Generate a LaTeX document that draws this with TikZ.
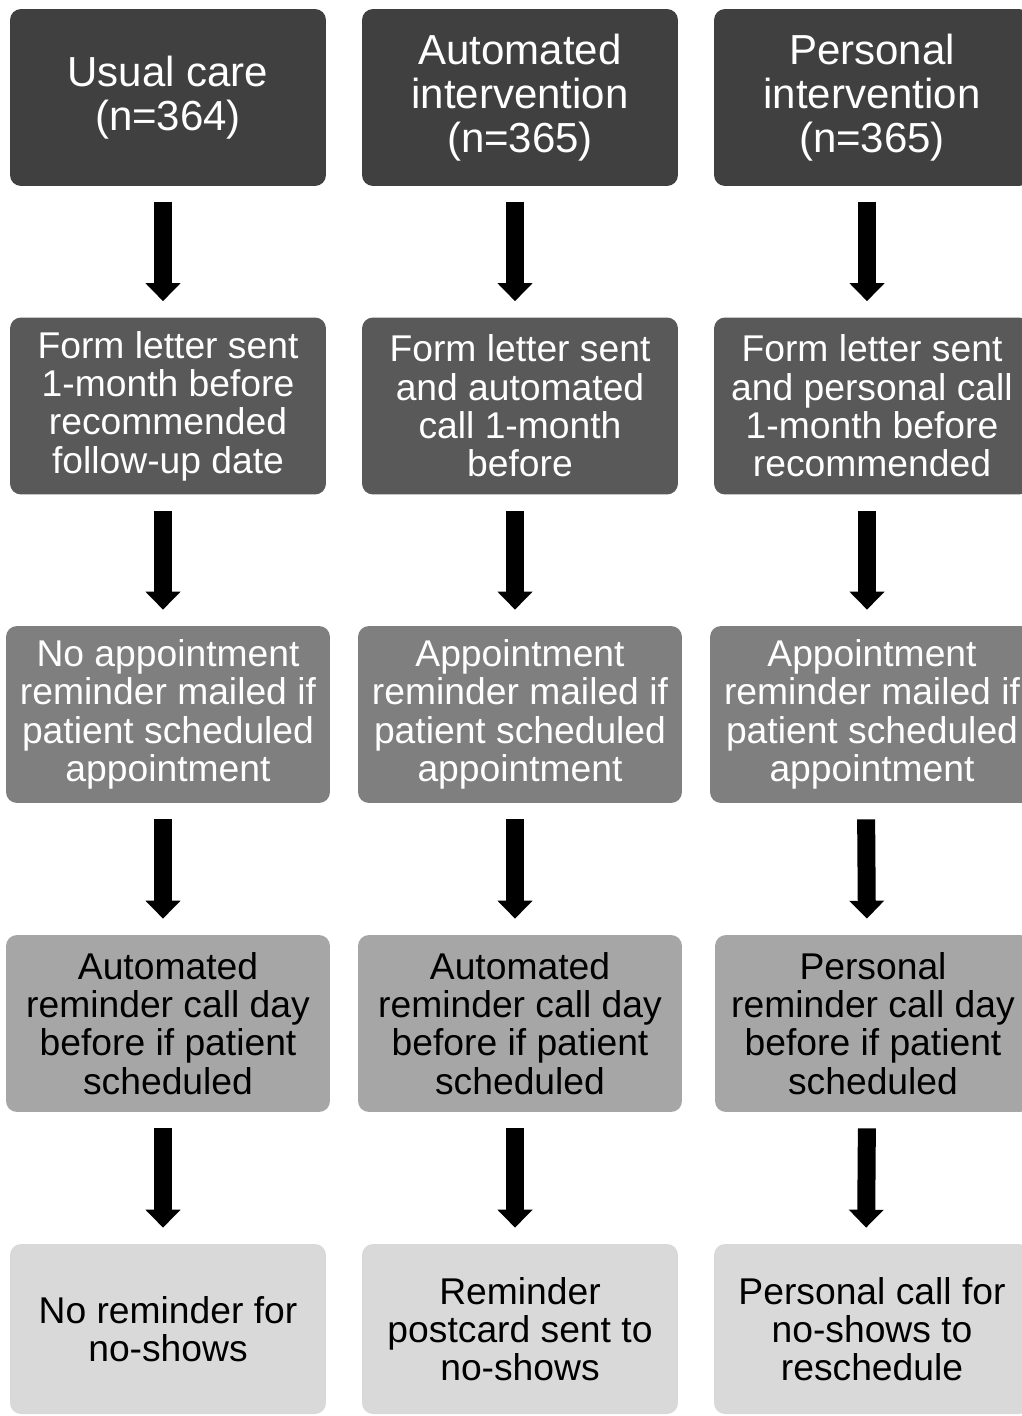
\documentclass[tikz,border=0pt]{standalone}
\usepackage{fontspec}
\setmainfont{Liberation Sans}
\usetikzlibrary{arrows.meta}

\definecolor{shadeA}{HTML}{404040}
\definecolor{shadeB}{HTML}{595959}
\definecolor{shadeC}{HTML}{7F7F7F}
\definecolor{shadeD}{HTML}{A6A6A6}
\definecolor{shadeE}{HTML}{D9D9D9}

\tikzset{
    stage/.style={rounded corners=0.22cm, inner sep=0pt, align=center,
        minimum width=6.32cm, minimum height=3.54cm,
        font=\fontsize{21.2pt}{21.8pt}\selectfont},
    armbox/.style={stage, fill=shadeA, text=white,
        font=\fontsize{23.9pt}{25.2pt}\selectfont},
    wide/.style={minimum width=6.48cm},
    flow/.style={line width=0.36cm, -{Triangle[width=0.68cm,length=0.36cm]},
        shorten <=0.32cm, shorten >=0.32cm},
}

\begin{document}
\begin{tikzpicture}[x=0.02cm, y=-0.02cm]
    \useasboundingbox (0,0) rectangle (1021,1416);

    % Row 1: study arms
    \node[armbox] (u1) at (168,97.5) {Usual care\\(n=364)};
    \node[armbox] (a1) at (520,97.5) {Automated\\intervention\\(n=365)};
    \node[armbox] (p1) at (872,97.5) {Personal\\intervention\\(n=365)};

    % Row 2: first contact
    \node[stage, fill=shadeB, text=white] (u2) at (168,406)
        {Form letter sent\\1-month before\\recommended\\follow-up date};
    \node[stage, fill=shadeB, text=white] (a2) at (520,406)
        {Form letter sent\\and automated\\call 1-month\\before};
    \node[stage, fill=shadeB, text=white] (p2) at (872,406)
        {Form letter sent\\and personal call\\1-month before\\recommended};

    % Row 3: mailed reminder
    \node[stage, wide, fill=shadeC, text=white] (u3) at (168,714.5)
        {No appointment\\reminder mailed if\\patient scheduled\\appointment};
    \node[stage, wide, fill=shadeC, text=white] (a3) at (520,714.5)
        {Appointment\\reminder mailed if\\patient scheduled\\appointment};
    \node[stage, wide, fill=shadeC, text=white] (p3) at (872,714.5)
        {Appointment\\reminder mailed if\\patient scheduled\\appointment};

    % Row 4: reminder call
    \node[stage, wide, fill=shadeD] (u4) at (168,1023.5)
        {Automated\\reminder call day\\before if patient\\scheduled};
    \node[stage, wide, fill=shadeD] (a4) at (520,1023.5)
        {Automated\\reminder call day\\before if patient\\scheduled};
    \node[stage, fill=shadeD] (p4) at (873,1023.5)
        {Personal\\reminder call day\\before if patient\\scheduled};

    % Row 5: no-shows (box runs off the bottom edge)
    \node[stage, fill=shadeE, minimum height=3.4cm] (u5) at (168,1329) {No reminder for\\no-shows};
    \node[stage, fill=shadeE, minimum height=3.4cm] (a5) at (520,1329) {Reminder\\postcard sent to\\no-shows};
    \node[stage, fill=shadeE, minimum height=3.4cm] (p5) at (872,1329) {Personal call for\\no-shows to\\reschedule};

    % Arrows down each column
    \draw[flow] ([xshift=-0.1cm]u1.south) -- ([xshift=-0.1cm]u2.north);
    \draw[flow] ([xshift=-0.1cm]u2.south) -- ([xshift=-0.1cm]u3.north);
    \draw[flow] ([xshift=-0.1cm]u3.south) -- ([xshift=-0.1cm]u4.north);
    \draw[flow] ([xshift=-0.1cm]u4.south) -- ([xshift=-0.1cm]u5.north);

    \draw[flow] ([xshift=-0.1cm]a1.south) -- ([xshift=-0.1cm]a2.north);
    \draw[flow] ([xshift=-0.1cm]a2.south) -- ([xshift=-0.1cm]a3.north);
    \draw[flow] ([xshift=-0.1cm]a3.south) -- ([xshift=-0.1cm]a4.north);
    \draw[flow] ([xshift=-0.1cm]a4.south) -- ([xshift=-0.1cm]a5.north);

    \draw[flow] ([xshift=-0.1cm]p1.south) -- ([xshift=-0.1cm]p2.north);
    \draw[flow] ([xshift=-0.1cm]p2.south) -- ([xshift=-0.1cm]p3.north);
    \draw[flow] ([xshift=-0.12cm]p3.south) -- ([xshift=-0.12cm]p4.north);
    \draw[flow] ([xshift=-0.12cm]p4.south) -- ([xshift=-0.12cm]p5.north);
\end{tikzpicture}
\end{document}
